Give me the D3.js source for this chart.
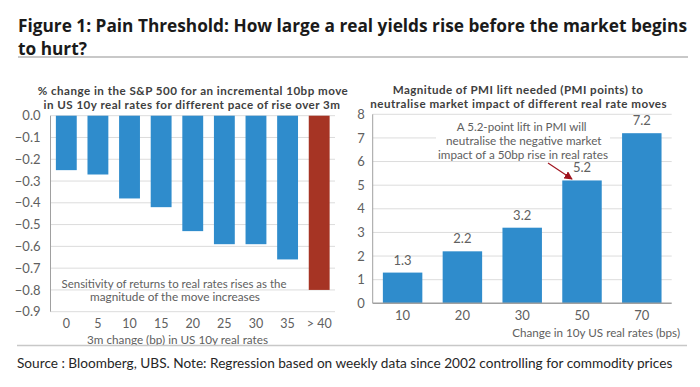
<!DOCTYPE html>
<html><head><meta charset="utf-8">
<script src="https://cdn.jsdelivr.net/npm/d3@7/dist/d3.min.js"></script>
<style>
html,body{margin:0;padding:0;background:#fff;}
svg{display:block;font-family:Lato,"Open Sans",sans-serif;}
</style></head>
<body><svg id="c" width="700" height="387"></svg>
<script>
// ---------- DATA ----------
const leftCategories = ["0","5","10","15","20","25","30","35","> 40"];
const leftValues = [-0.25,-0.27,-0.38,-0.42,-0.53,-0.59,-0.59,-0.66,-0.80];
const leftTicks = [0,-0.1,-0.2,-0.3,-0.4,-0.5,-0.6,-0.7,-0.8,-0.9];
const rightCategories = ["10","20","30","50","70"];
const rightValues = [1.3,2.2,3.2,5.2,7.2];
const rightTicks = [0,1,2,3,4,5,6,7,8];

const titleLines = ["Figure 1: Pain Threshold: How large a real yields rise before the market begins","to hurt?"];
const leftTitle = ["% change in the S&P 500 for an incremental 10bp move","in US 10y real rates for different pace of rise over 3m"];
const leftXTitle = "3m change (bp) in US 10y real rates";
const leftNote = ["Sensitivity of returns to real rates rises as the","magnitude of the move increases"];
const rightTitle = ["Magnitude of PMI lift needed (PMI points) to","neutralise market impact of different real rate moves"];
const rightXTitle = "Change in 10y US real rates (bps)";
const rightNote = ["A 5.2-point lift in PMI will","neutralise the negative market","impact of a 50bp rise in real rates"];
const sourceText = "Source : Bloomberg, UBS. Note: Regression based on weekly data since 2002 controlling for commodity prices";

// ---------- STYLE ----------
const BLUE = "#2f8ccc", RED = "#a63424", GRID = "#dcdcdc", AXIS = "#a0a0a0", TXT = "#606060";
const FONT = "Lato";

const svg = d3.select("#c");

function fit(sel, w){
  sel.each(function(){
    const fs = parseFloat(this.getAttribute("font-size"));
    const len = this.getComputedTextLength();
    if(len>0) this.setAttribute("font-size", (fs*w/len).toFixed(2));
  });
}
function spread(sel, w){
  sel.each(function(){
    const len = this.getComputedTextLength();
    const n = this.textContent.length;
    if(len>0 && n>1) this.setAttribute("letter-spacing", ((w-len)/(n-1)).toFixed(3));
  });
}
function addText(x,y,str,opts){
  const t = svg.append("text").attr("x",x).attr("y",y).text(str)
    .attr("font-family",opts.family||FONT)
    .attr("font-size",opts.size||12).attr("fill",opts.fill||TXT)
    .attr("text-anchor",opts.anchor||"middle").attr("dominant-baseline","central")
    .attr("font-weight",opts.weight||"normal");
  if(opts.w) fit(t,opts.w);
  if(opts.sw) spread(t,opts.sw);
  return t;
}

// ---------- HEADER ----------
const t1 = addText(18,25.5,titleLines[0],{size:18,weight:"bold",fill:"#1a1a1a",anchor:"start",w:669,family:"Open Sans"});
addText(18,48,titleLines[1],{size:18,weight:"bold",fill:"#1a1a1a",anchor:"start",family:"Open Sans"})
  .attr("font-size", t1.attr("font-size"));
svg.append("line").attr("x1",18).attr("x2",688).attr("y1",57).attr("y2",57)
  .attr("stroke","#c8c8c8").attr("stroke-width",2);

// ---------- LEFT CHART ----------
const lx = d3.scaleBand().domain(leftCategories).range([50.5,335]).paddingInner(0.34).paddingOuter(0.17);
const ly = d3.scaleLinear().domain([-0.9,0]).range([311.7,115.7]);
const lg = svg.append("g");
lg.selectAll("line.grid").data(leftTicks).join("line")
  .attr("x1",50.5).attr("x2",335).attr("y1",d=>ly(d)).attr("y2",d=>ly(d))
  .attr("stroke",GRID).attr("stroke-width",1);
lg.selectAll("rect").data(leftValues).join("rect")
  .attr("x",(d,i)=>lx(leftCategories[i])).attr("width",lx.bandwidth())
  .attr("y",ly(0)).attr("height",d=>ly(d)-ly(0))
  .attr("fill",(d,i)=>i===leftValues.length-1?RED:BLUE);
lg.append("line").attr("x1",50.5).attr("x2",50.5).attr("y1",ly(0)).attr("y2",ly(-0.9))
  .attr("stroke",AXIS).attr("stroke-width",1);
const lAxis = d3.axisLeft(ly).tickValues(leftTicks).tickFormat(d3.format(".1f")).tickSize(0).tickPadding(10);
const lag = svg.append("g").attr("transform","translate(50.5,0)").call(lAxis);
lag.select(".domain").remove();
lag.selectAll("text").attr("font-size",13).attr("fill",TXT).attr("font-family",FONT);
const lxAxis = d3.axisBottom(lx).tickSize(0).tickPadding(0);
const lxg = svg.append("g").attr("transform","translate(0,319)").call(lxAxis);
lxg.select(".domain").remove();
lxg.selectAll("text").attr("font-size",12.5).attr("fill",TXT).attr("font-family",FONT);
addText(177.5,338.5,leftXTitle,{size:12,w:181});
addText(174,283,leftNote[0],{size:12,w:225});
addText(175,296.5,leftNote[1],{size:12,w:170});
addText(193,90.5,leftTitle[0],{size:11.6,weight:"bold",fill:"#404040",sw:310});
addText(192,104.5,leftTitle[1],{size:11.6,weight:"bold",fill:"#404040",sw:296});

// ---------- RIGHT CHART ----------
const rx = d3.scaleBand().domain(rightCategories).range([372.7,671.7]).paddingInner(0.34).paddingOuter(0.17);
const ry = d3.scaleLinear().domain([0,8]).range([303.3,114.3]);
const rg = svg.append("g");
rg.selectAll("line.grid").data(rightTicks.slice(1)).join("line")
  .attr("x1",372.7).attr("x2",671.7).attr("y1",d=>ry(d)).attr("y2",d=>ry(d))
  .attr("stroke",GRID).attr("stroke-width",1);
rg.selectAll("rect.bar").data(rightValues).join("rect").attr("class","bar")
  .attr("x",(d,i)=>rx(rightCategories[i])).attr("width",rx.bandwidth())
  .attr("y",d=>ry(d)).attr("height",d=>ry(0)-ry(d)).attr("fill",BLUE);
rg.selectAll("text.val").data(rightValues).join("text").attr("class","val")
  .attr("x",(d,i)=>rx(rightCategories[i])+rx.bandwidth()/2).attr("y",d=>ry(d)-13)
  .attr("text-anchor","middle").attr("dominant-baseline","central")
  .attr("font-family",FONT).attr("font-size",13).attr("fill",TXT).text(d=>d3.format(".1f")(d));
rg.append("line").attr("x1",372.7).attr("x2",671.7).attr("y1",ry(0)).attr("y2",ry(0))
  .attr("stroke",AXIS).attr("stroke-width",1.5);
rg.append("line").attr("x1",372.7).attr("x2",372.7).attr("y1",ry(0)).attr("y2",ry(8))
  .attr("stroke",AXIS).attr("stroke-width",1);
const rAxis = d3.axisLeft(ry).tickValues(rightTicks).tickFormat(d3.format("d")).tickSize(0).tickPadding(8);
const rag = svg.append("g").attr("transform","translate(372.7,0)").call(rAxis);
rag.select(".domain").remove();
rag.selectAll("text").attr("font-size",13).attr("fill",TXT).attr("font-family",FONT);
const rxAxis = d3.axisBottom(rx).tickSize(0).tickPadding(0);
const rxg = svg.append("g").attr("transform","translate(0,310.5)").call(rxAxis);
rxg.select(".domain").remove();
rxg.selectAll("text").attr("font-size",13).attr("fill",TXT).attr("font-family",FONT);
addText(680,332,rightXTitle,{size:12.5,anchor:"end",w:168});
// annotation
svg.append("rect").attr("x",436).attr("y",117).attr("width",174).attr("height",44).attr("fill","#fff");
addText(521.7,126.5,rightNote[0],{size:12.5,w:130});
addText(523.8,140,rightNote[1],{size:12.5,w:155.7});
addText(523,153.5,rightNote[2],{size:12.5,w:170});
svg.append("defs").append("marker").attr("id","ah").attr("viewBox","0 0 10 10")
  .attr("refX",9).attr("refY",5).attr("markerWidth",7).attr("markerHeight",7).attr("orient","auto")
  .append("path").attr("d","M0,0L10,5L0,10z").attr("fill","#a0141e");
svg.append("line").attr("x1",548).attr("y1",163).attr("x2",572).attr("y2",179)
  .attr("stroke","#a0141e").attr("stroke-width",1.2).attr("marker-end","url(#ah)");
addText(518,89.5,rightTitle[0],{size:11.6,weight:"bold",fill:"#404040",sw:250});
addText(518.7,103.5,rightTitle[1],{size:11.6,weight:"bold",fill:"#404040",sw:296});

// ---------- FOOTER ----------
svg.append("line").attr("x1",17).attr("x2",687).attr("y1",345.5).attr("y2",345.5)
  .attr("stroke","#c8c8c8").attr("stroke-width",1.5);
addText(17,362.5,sourceText,{size:13.5,anchor:"start",fill:"#262626",w:656});
</script></body></html>
